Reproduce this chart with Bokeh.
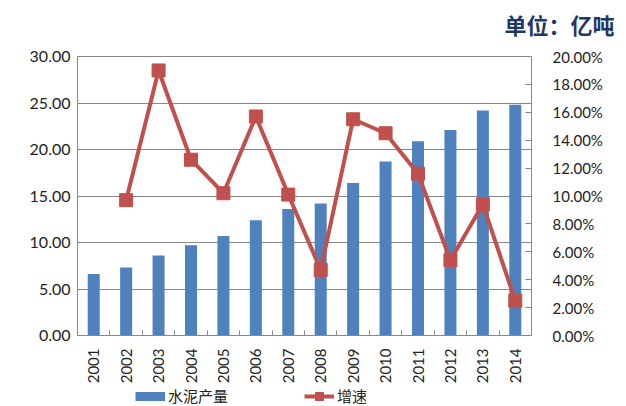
import math
from bokeh.plotting import figure
from bokeh.layouts import column
from bokeh.models import (Range1d, LinearAxis, FixedTicker, SingleIntervalTicker,
                          PrintfTickFormatter, CustomJSTickFormatter, Legend,
                          LegendItem, Title)
from bokeh.embed import file_html
from bokeh.resources import INLINE

# ---- data ----
years = ["2001", "2002", "2003", "2004", "2005", "2006", "2007",
         "2008", "2009", "2010", "2011", "2012", "2013", "2014"]
output = [6.6, 7.3, 8.6, 9.7, 10.7, 12.4, 13.6, 14.2, 16.4, 18.7, 20.9, 22.1, 24.2, 24.8]
growth_years = ["2002", "2003", "2004", "2005", "2006", "2007",
                "2008", "2009", "2010", "2011", "2012", "2013", "2014"]
growth = [9.7, 19.0, 12.6, 10.2, 15.7, 10.1, 4.7, 15.5, 14.5, 11.6, 5.4, 9.4, 2.5]
left_ticks = [0, 5, 10, 15, 20, 25, 30]

x_out = [years.index(y) + 0.5 for y in years]
x_gr = [years.index(y) + 0.5 for y in growth_years]

BLUE = "#4F81BD"
RED = "#C0504D"
GRID = "#888888"
TXT = "#222222"
FONT = "Lato"
CJK = "Noto Sans CJK SC"
NAN = float("nan")


def strip(height):
    f = figure(width=626, height=height, output_backend="svg", toolbar_location=None,
               x_range=Range1d(0, 1), y_range=Range1d(0, 1),
               x_axis_type=None, y_axis_type=None, min_border=0)
    f.outline_line_color = None
    f.xgrid.visible = False
    f.ygrid.visible = False
    return f


# ---- unit header strip ----
head = strip(45)
head.add_layout(Title(text="单位：亿吨", align="right", offset=-83, standoff=10,
                      text_font=CJK, text_font_style="bold", text_font_size="22px",
                      text_color="#1F3864"), "above")

# ---- main chart ----
p = figure(width=626, height=341, output_backend="svg", toolbar_location=None,
           x_range=Range1d(0, len(years)), y_range=Range1d(0, 30),
           min_border_left=77, min_border_right=95, min_border_top=11,
           min_border_bottom=49)
p.outline_line_color = GRID
p.background_fill_color = "white"

# x axis
p.xaxis.ticker = FixedTicker(ticks=x_out, minor_ticks=list(range(len(years) + 1)))
p.xaxis.formatter = CustomJSTickFormatter(args=dict(labels=years),
                                          code="return labels[Math.floor(tick)];")
p.xaxis.major_label_orientation = math.pi / 2
p.xaxis.major_tick_line_color = None
p.xaxis.major_tick_in = 0
p.xaxis.major_tick_out = 0
p.xaxis.minor_tick_in = 5
p.xaxis.minor_tick_out = 0
p.xaxis.minor_tick_line_color = GRID
p.xaxis.axis_line_color = GRID
p.xaxis.major_label_standoff = 13
p.xaxis.major_label_text_font = FONT
p.xaxis.major_label_text_font_size = "15px"
p.xaxis.major_label_text_color = TXT
p.xgrid.visible = False

# left axis
p.yaxis.ticker = FixedTicker(ticks=left_ticks)
p.yaxis.formatter = PrintfTickFormatter(format="%.2f")
p.yaxis.major_tick_line_color = None
p.yaxis.major_tick_in = 0
p.yaxis.major_tick_out = 0
p.yaxis.minor_tick_line_color = None
p.yaxis.axis_line_color = GRID
p.yaxis.major_label_standoff = 7
p.yaxis.major_label_text_font = FONT
p.yaxis.major_label_text_font_size = "16px"
p.yaxis.major_label_text_color = TXT
p.ygrid.ticker = FixedTicker(ticks=left_ticks)
p.ygrid.grid_line_color = GRID

# right axis
p.extra_y_ranges = {"rate": Range1d(0, 20)}
rax = LinearAxis(y_range_name="rate",
                 ticker=SingleIntervalTicker(interval=2, num_minor_ticks=0),
                 formatter=PrintfTickFormatter(format="%.2f%%"))
rax.major_tick_in = 6
rax.major_tick_out = 0
rax.major_tick_line_color = GRID
rax.minor_tick_line_color = None
rax.axis_line_color = GRID
rax.major_label_standoff = 21
rax.major_label_text_align = "left"
rax.major_label_text_font = FONT
rax.major_label_text_font_size = "15px"
rax.major_label_text_color = TXT
p.add_layout(rax, "right")

# glyphs
bars = p.vbar(x=x_out, top=output, width=0.37, fill_color=BLUE, line_color=None)
ln = p.line(x_gr, growth, y_range_name="rate", line_color=RED, line_width=4)
mk = p.scatter(x_gr, growth, y_range_name="rate", marker="square", size=13,
               fill_color=RED, line_color=RED)

# ---- legend strip (separate small canvas under the chart) ----
lg = strip(20)
# legend proxies (no visible data point)
sw_bar = lg.line([NAN], [NAN], line_color=BLUE, line_width=9)
sw_ln = lg.line([NAN], [NAN], line_color=RED, line_width=4)
sw_mk = lg.scatter([NAN], [NAN], marker="square", fill_color=RED, line_color=RED)

legend = Legend(items=[LegendItem(label="水泥产量", renderers=[sw_bar]),
                       LegendItem(label="增速", renderers=[sw_ln, sw_mk])],
                location=(58, 0), orientation="horizontal",
                glyph_width=30, glyph_height=20, label_standoff=3,
                padding=0, margin=0, spacing=76,
                background_fill_alpha=0, border_line_color=None,
                label_text_font=CJK, label_text_font_size="15px",
                label_text_color=TXT)
lg.add_layout(legend, "center")

open("out.html", "w").write(file_html(column(head, p, lg, spacing=0), INLINE))
